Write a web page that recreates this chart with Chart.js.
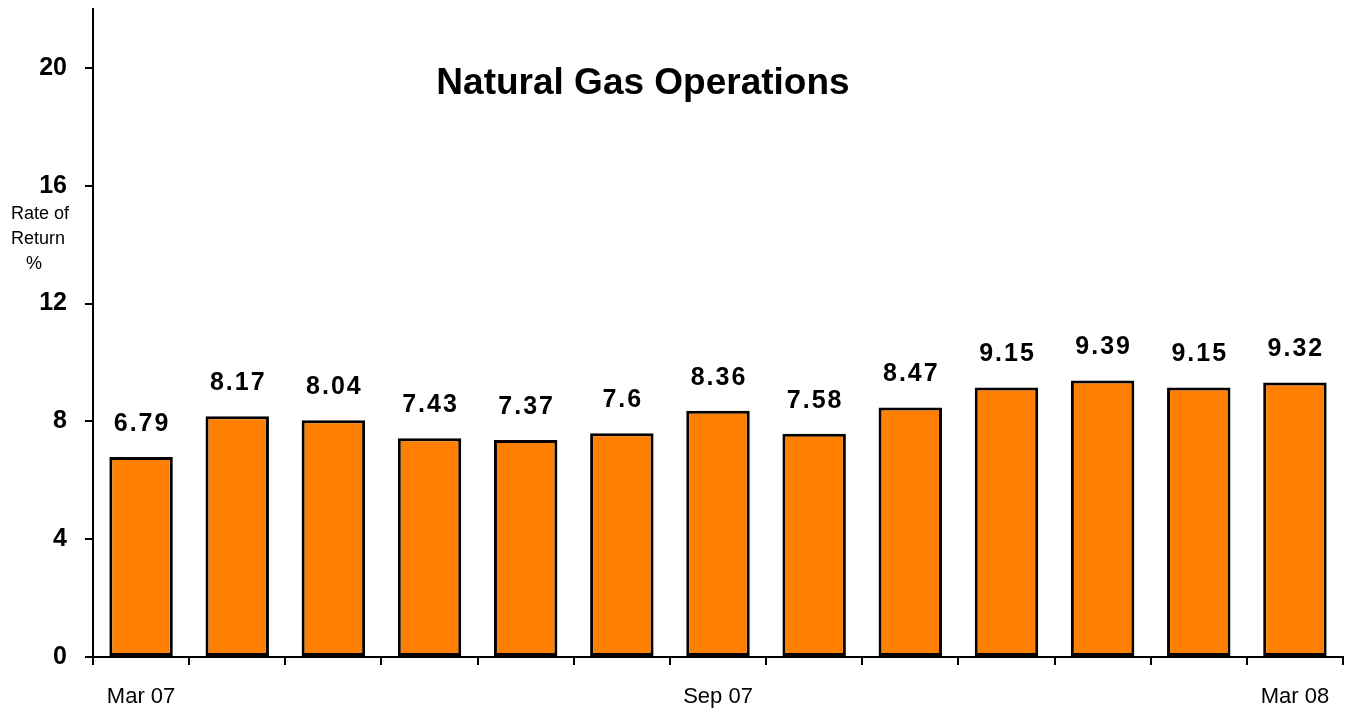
<!DOCTYPE html>
<html>
<head>
<meta charset="utf-8">
<script src="https://cdn.jsdelivr.net/npm/chart.js@4/dist/chart.umd.min.js"></script>
<style>
html,body{margin:0;padding:0;background:#fff;}
#wrap{width:1356px;height:715px;position:relative;overflow:hidden;}
#c{position:absolute;left:0;top:-24px;}
</style>
</head>
<body>
<div id="wrap"><canvas id="c" width="1356" height="739"></canvas></div>
<script>
const categories = ['Mar 07','Apr 07','May 07','Jun 07','Jul 07','Aug 07','Sep 07','Oct 07','Nov 07','Dec 07','Jan 08','Feb 08','Mar 08'];
const shownLabels = ['Mar 07','Sep 07','Mar 08'];
const values = [6.79, 8.17, 8.04, 7.43, 7.37, 7.6, 8.36, 7.58, 8.47, 9.15, 9.39, 9.15, 9.32];
const valueLabels = ['6.79','8.17','8.04','7.43','7.37','7.6','8.36','7.58','8.47','9.15','9.39','9.15','9.32'];
const yTicks = [0, 4, 8, 12, 16, 20];
const titleText = 'Natural Gas Operations';
const yTitle = ['Rate of', 'Return', '%'];

const FONT = 'Arial, "Liberation Sans", Helvetica, sans-serif';
const SHIFT = 24;

const overlay = {
  id: 'overlay',
  afterDatasetsDraw(chart) {
    const ctx = chart.ctx;
    const meta = chart.getDatasetMeta(0);
    ctx.save();
    ctx.fillStyle = '#000';
    ctx.textAlign = 'center';
    ctx.textBaseline = 'middle';
    ctx.font = 'bold 25px ' + FONT;
    try { ctx.letterSpacing = '2px'; } catch(e) {}
    meta.data.forEach((bar, i) => {
      ctx.fillText(valueLabels[i], bar.x + 1, bar.y - 33);
    });
    try { ctx.letterSpacing = '0px'; } catch(e) {}
    ctx.font = 'bold 37px ' + FONT;
    ctx.fillText(titleText, 643, 84 + SHIFT);
    ctx.font = '18px ' + FONT;
    ctx.fillText(yTitle[0], 40, 214 + SHIFT);
    ctx.fillText(yTitle[1], 38, 239 + SHIFT);
    ctx.fillText(yTitle[2], 34, 264 + SHIFT);
    ctx.restore();
  }
};

new Chart(document.getElementById('c'), {
  type: 'bar',
  data: {
    labels: categories,
    datasets: [{
      data: values,
      backgroundColor: '#FF8000',
      borderColor: '#000',
      borderWidth: 3,
      borderSkipped: false,
      barPercentage: 0.66,
      categoryPercentage: 1.0
    }]
  },
  options: {
    responsive: false,
    animation: false,
    events: [],
    layout: { padding: { top: 0, right: 13, left: 0, bottom: 0 } },
    plugins: { legend: { display: false }, tooltip: { enabled: false }, title: { display: false } },
    scales: {
      x: {
        offset: true,
        grid: { display: true, drawOnChartArea: false, drawTicks: true, tickLength: 8, color: '#000', lineWidth: 2, offset: true },
        border: { display: true, color: '#000', width: 2 },
        ticks: {
          autoSkip: false, maxRotation: 0, minRotation: 0, padding: 19,
          color: '#000', font: { size: 22, family: FONT },
          callback: function(v, i) { const l = categories[i]; return shownLabels.includes(l) ? l : ''; }
        },
        afterFit(scale) { scale.height = 58; }
      },
      y: {
        min: 0, max: 22,
        afterBuildTicks(scale) { scale.ticks = yTicks.map(v => ({ value: v })); },
        grid: { display: true, drawOnChartArea: false, drawTicks: true, tickLength: 8, color: '#000', lineWidth: 2 },
        border: { display: true, color: '#000', width: 2 },
        ticks: { color: '#000', padding: 18, font: { size: 25, weight: 'bold', family: FONT } },
        afterFit(scale) { scale.width = 93; }
      }
    }
  },
  plugins: [overlay]
});
</script>
</body>
</html>
